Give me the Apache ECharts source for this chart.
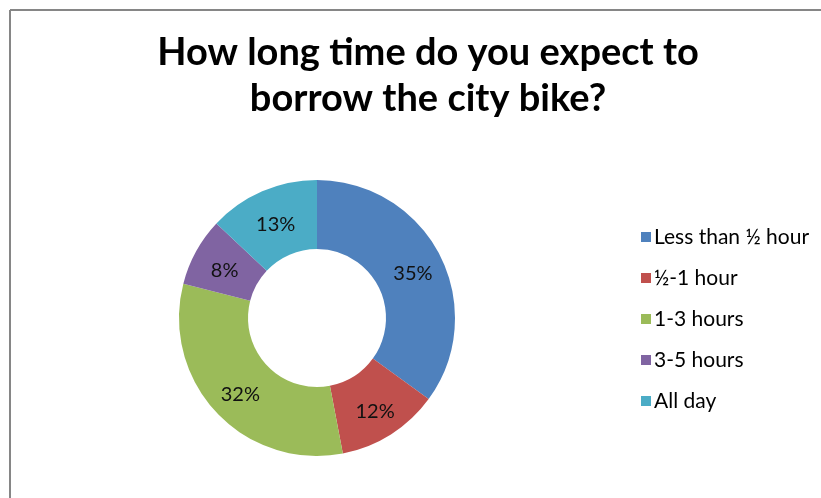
<!DOCTYPE html>
<html>
<head>
<meta charset="utf-8">
<script src="https://cdn.jsdelivr.net/npm/echarts@6/dist/echarts.min.js"></script>
<style>
  html, body { margin: 0; padding: 0; background: #fff; }
  #chart { width: 821px; height: 498px; }
</style>
</head>
<body>
<div id="chart"></div>
<script>
// Survey answers: expected borrowing time for the city bike (percent)
const categories = ['Less than ½ hour', '½-1 hour', '1-3 hours', '3-5 hours', 'All day'];
const shares = [35, 12, 32, 8, 13];
const colors = ['#4F81BD', '#C0504D', '#9BBB59', '#8064A2', '#4BACC6'];

const chart = echarts.init(document.getElementById('chart'), null, { renderer: 'canvas' });

chart.setOption({
  animation: false,
  backgroundColor: '#fff',
  color: colors,
  title: {
    text: 'How long time do you expect to\nborrow the city bike?',
    left: 423,
    top: 25,
    textAlign: 'center',
    textStyle: {
      fontFamily: 'Lato',
      fontWeight: 'bold',
      fontSize: 38,
      lineHeight: 46,
      color: '#000'
    }
  },
  legend: {
    orient: 'vertical',
    left: 636,
    top: 221,
    icon: 'rect',
    itemWidth: 10,
    itemHeight: 10,
    itemGap: 19,
    textStyle: {
      fontFamily: 'Lato',
      fontSize: 21,
      lineHeight: 22,
      color: '#000',
      padding: [0, 0, 0, -2]
    },
    data: categories
  },
  graphic: [
    { type: 'line', shape: { x1: 10, y1: 10, x2: 821, y2: 10 }, style: { stroke: '#868686', lineWidth: 2 } },
    { type: 'line', shape: { x1: 10, y1: 10, x2: 10, y2: 498 }, style: { stroke: '#868686', lineWidth: 2 } }
  ],
  series: [{
    type: 'pie',
    center: [317, 318],
    radius: [69, 138],
    startAngle: 90,
    clockwise: true,
    avoidLabelOverlap: false,
    label: {
      show: true,
      position: 'inside',
      formatter: '{c}%',
      fontFamily: 'Lato',
      fontSize: 20,
      color: '#111',
      offset: [1, 4]
    },
    labelLine: { show: false },
    itemStyle: { borderColor: '#fff', borderWidth: 0 },
    emphasis: { disabled: true },
    data: categories.map((name, i) => ({ name, value: shares[i] }))
  }]
});
</script>
</body>
</html>
